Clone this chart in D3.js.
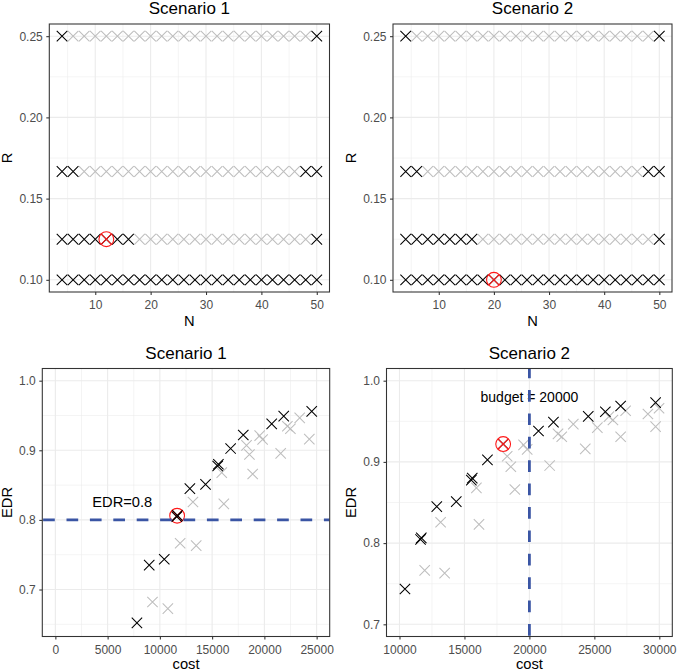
<!DOCTYPE html>
<html>
<head>
<meta charset="utf-8">
<script src="https://cdn.jsdelivr.net/npm/d3@7"></script>
<style>
  html, body { margin: 0; padding: 0; background: #fff; }
  svg { display: block; font-family: "Liberation Sans", Arial, Helvetica, sans-serif; }
</style>
</head>
<body>
<svg id="chart" width="677" height="671"></svg>
<script>
// ---------------- data ----------------
const scenarioTitles = ["Scenario 1", "Scenario 2"];

// top panels: design grid N x R
const nValues = [4, 6, 8, 10, 12, 14, 16, 18, 20, 22, 24, 26, 28, 30, 32, 34, 36, 38, 40, 42, 44, 46, 48, 50];
const rValues = [0.25, 0.1667, 0.125, 0.10];
// N values drawn in black, one list per R row (same in both scenarios)
const blackNByRow = [
  [4, 50],
  [4, 6, 48, 50],
  [4, 6, 8, 10, 12, 14, 16, 50],
  [4, 6, 8, 10, 12, 14, 16, 18, 20, 22, 24, 26, 28, 30, 32, 34, 36, 38, 40, 42, 44, 46, 48, 50]
];
const optimalNR = [[12, 0.125], [20, 0.10]]; // scenario 1, scenario 2

// bottom panels: cost vs EDR
const blackCost = [7805, 8979, 10420, 11620, 11680, 12870, 14370, 15530, 15600, 16770, 17980, 20700, 21850, 24530, 25846, 27023, 29715];
const blackEDR  = [0.652, 0.735, 0.7435, 0.8045, 0.8065, 0.845, 0.851, 0.8775, 0.880, 0.9025, 0.922, 0.938, 0.949, 0.956, 0.9618, 0.9688, 0.973];
const greyCost  = [9294, 10764, 11940, 13165, 13475, 15920, 16120, 18290, 18570, 18880, 19550, 19830, 21560, 22200, 22490, 23380, 24300, 25231, 26123, 26431, 27023, 27408, 29123, 29980, 29715];
const greyEDR   = [0.682, 0.6725, 0.7665, 0.8257, 0.763, 0.868, 0.823, 0.907, 0.894, 0.866, 0.921, 0.9155, 0.8955, 0.9345, 0.931, 0.9465, 0.916, 0.9422, 0.9557, 0.9516, 0.931, 0.963, 0.959, 0.966, 0.9434];
const optimalCostEDR = [[11650, 0.806], [17980, 0.922]];

const s1Limits = { cost: [0, 25000], edr: [0.65, 1.0] };
const s2Limits = { cost: [10000, 30000], edr: [0.70, 1.0] };
const edrTarget = 0.8;
const budget = 20000;
const edrLabel = "EDR=0.8";
const budgetLabel = "budget = 20000";

const topXTicks = [10, 20, 30, 40, 50];
const topYTicks = [0.10, 0.15, 0.20, 0.25];
const s1XTicks = [0, 5000, 10000, 15000, 20000, 25000];
const s2XTicks = [10000, 15000, 20000, 25000, 30000];
const bottomYTicks = [0.7, 0.8, 0.9, 1.0];

// ---------------- styles ----------------
const BLACK = "#000000", GREY = "#BEBEBE", RED = "#FF1A1A", BLUE = "#3A55A4";
const GRID = "#EBEBEB", BORDER = "#333333", TICKTXT = "#4D4D4D";

const svg = d3.select("#chart");
let clipId = 0;

function expand(lims) {
  const d = (lims[1] - lims[0]) * 0.05;
  return [lims[0] - d, lims[1] + d];
}

function panel(opt) {
  const x = d3.scaleLinear().domain(opt.xDomain).range([opt.x0, opt.x1]);
  const y = d3.scaleLinear().domain(opt.yDomain).range([opt.y1, opt.y0]);
  const g = svg.append("g");
  const id = "clip" + (clipId++);
  svg.append("defs").append("clipPath").attr("id", id)
    .append("rect").attr("x", opt.x0).attr("y", opt.y0)
    .attr("width", opt.x1 - opt.x0).attr("height", opt.y1 - opt.y0);

  g.append("rect").attr("x", opt.x0).attr("y", opt.y0)
    .attr("width", opt.x1 - opt.x0).attr("height", opt.y1 - opt.y0).attr("fill", "#fff");

  const inside = g.append("g").attr("clip-path", `url(#${id})`);
  // minor grid
  const xStep = opt.xTicks[1] - opt.xTicks[0];
  const yStep = opt.yTicks[1] - opt.yTicks[0];
  const xMinor = [], yMinor = [];
  for (let i = -1; i < opt.xTicks.length; i++) xMinor.push(opt.xTicks[0] + xStep * (i + 0.5));
  for (let i = -1; i < opt.yTicks.length; i++) yMinor.push(opt.yTicks[0] + yStep * (i + 0.5));
  const inX = v => v >= opt.xDomain[0] && v <= opt.xDomain[1];
  const inY = v => v >= opt.yDomain[0] && v <= opt.yDomain[1];
  inside.selectAll(".xmin").data(xMinor.filter(inX)).join("line")
    .attr("x1", d => x(d)).attr("x2", d => x(d)).attr("y1", opt.y0).attr("y2", opt.y1)
    .attr("stroke", GRID).attr("stroke-width", 0.55);
  inside.selectAll(".ymin").data(yMinor.filter(inY)).join("line")
    .attr("y1", d => y(d)).attr("y2", d => y(d)).attr("x1", opt.x0).attr("x2", opt.x1)
    .attr("stroke", GRID).attr("stroke-width", 0.55);
  inside.selectAll(".xmaj").data(opt.xTicks).join("line")
    .attr("x1", d => x(d)).attr("x2", d => x(d)).attr("y1", opt.y0).attr("y2", opt.y1)
    .attr("stroke", GRID).attr("stroke-width", 1.1);
  inside.selectAll(".ymaj").data(opt.yTicks).join("line")
    .attr("y1", d => y(d)).attr("y2", d => y(d)).attr("x1", opt.x0).attr("x2", opt.x1)
    .attr("stroke", GRID).attr("stroke-width", 1.1);

  // axes (ticks + labels) using d3 axes
  const xAxis = d3.axisBottom(x).tickValues(opt.xTicks).tickFormat(opt.xFmt).tickSizeInner(3).tickSizeOuter(0).tickPadding(3);
  const yAxis = d3.axisLeft(y).tickValues(opt.yTicks).tickFormat(opt.yFmt).tickSizeInner(3).tickSizeOuter(0).tickPadding(3.5);
  const gx = g.append("g").attr("transform", `translate(0,${opt.y1})`).call(xAxis);
  const gy = g.append("g").attr("transform", `translate(${opt.x0},0)`).call(yAxis);
  [gx, gy].forEach(a => {
    a.select(".domain").remove();
    a.selectAll(".tick line").attr("stroke", BORDER).attr("stroke-width", 1.07);
    a.selectAll(".tick text").attr("fill", TICKTXT).attr("font-size", 12)
      .attr("font-family", '"Liberation Sans", Arial, sans-serif');
  });
  gx.selectAll(".tick text").attr("dy", null).attr("y", 17.2).attr("dominant-baseline", "alphabetic");

  // titles
  svg.append("text").attr("x", (opt.x0 + opt.x1) / 2).attr("y", opt.y0 - 10)
    .attr("text-anchor", "middle").attr("font-size", 17).attr("fill", "#000").text(opt.title);
  svg.append("text").attr("x", (opt.x0 + opt.x1) / 2).attr("y", opt.y1 + opt.xTitleGap)
    .attr("text-anchor", "middle").attr("font-size", 14.7).attr("fill", "#000").text(opt.xLabel);
  svg.append("text").attr("transform", `translate(${opt.yTitleX},${(opt.y0 + opt.y1) / 2}) rotate(-90)`)
    .attr("text-anchor", "middle").attr("dy", "0.35em").attr("font-size", 14.7).attr("fill", "#000").text(opt.yLabel);

  return { x, y, g: inside, border: () => g.append("rect").attr("x", opt.x0).attr("y", opt.y0)
    .attr("width", opt.x1 - opt.x0).attr("height", opt.y1 - opt.y0)
    .attr("fill", "none").attr("stroke", BORDER).attr("stroke-width", 1.07) };
}

function cross(sel, data, color, h) {
  sel.selectAll(null).data(data).join("path")
    .attr("d", d => `M${d[0]-h},${d[1]-h}L${d[0]+h},${d[1]+h}M${d[0]-h},${d[1]+h}L${d[0]+h},${d[1]-h}`)
    .attr("stroke", color).attr("stroke-width", 1.05).attr("fill", "none");
}
function optimum(sel, p) {
  const r = 7.4, h = r * Math.SQRT1_2;
  sel.append("circle").attr("cx", p[0]).attr("cy", p[1]).attr("r", r)
    .attr("fill", "none").attr("stroke", RED).attr("stroke-width", 1.1);
  sel.append("path")
    .attr("d", `M${p[0]-h},${p[1]-h}L${p[0]+h},${p[1]+h}M${p[0]-h},${p[1]+h}L${p[0]+h},${p[1]-h}`)
    .attr("stroke", RED).attr("stroke-width", 1.1);
}

const fmt2 = d3.format(".2f"), fmt1 = d3.format(".1f"), fmt0 = d => String(d);
const topYDomain = expand([0.10, 0.25]);
const topXDomain = expand([4, 50]);

// ---------------- top panels ----------------
const topRects = [
  { x0: 49.3, x1: 329.5, yTitleX: 7.3 },
  { x0: 393.0, x1: 672.0, yTitleX: 350.5 }
];
[0, 1].forEach(s => {
  const p = panel({
    ...topRects[s], y0: 24, y1: 292, xTitleGap: 34,
    xDomain: topXDomain, yDomain: topYDomain,
    xTicks: topXTicks, yTicks: topYTicks, xFmt: fmt0, yFmt: fmt2,
    title: scenarioTitles[s], xLabel: "N", yLabel: "R"
  });
  const grey = [], black = [];
  rValues.forEach((r, i) => {
    nValues.forEach(n => {
      const pt = [p.x(n), p.y(r)];
      (blackNByRow[i].includes(n) ? black : grey).push(pt);
    });
  });
  cross(p.g, grey, GREY, 5.3);
  cross(p.g, black, BLACK, 5.3);
  optimum(p.g, [p.x(optimalNR[s][0]), p.y(optimalNR[s][1])]);
  p.border();
});

// ---------------- bottom panels ----------------
const bottomRects = [
  { x0: 42.3, x1: 329.7, yTitleX: 7.3, lims: s1Limits, xTicks: s1XTicks },
  { x0: 386.5, x1: 672.3, yTitleX: 350.8, lims: s2Limits, xTicks: s2XTicks }
];
[0, 1].forEach(s => {
  const b = bottomRects[s];
  const p = panel({
    x0: b.x0, x1: b.x1, y0: 368.5, y1: 636.5, yTitleX: b.yTitleX, xTitleGap: 32.3,
    xDomain: expand(b.lims.cost), yDomain: expand(b.lims.edr),
    xTicks: b.xTicks, yTicks: bottomYTicks, xFmt: fmt0, yFmt: fmt1,
    title: scenarioTitles[s], xLabel: "cost", yLabel: "EDR"
  });
  const inLim = (c, e) => c >= b.lims.cost[0] && c <= b.lims.cost[1] && e >= b.lims.edr[0] && e <= b.lims.edr[1];
  const grey = greyCost.map((c, i) => [c, greyEDR[i]]).filter(d => inLim(d[0], d[1])).map(d => [p.x(d[0]), p.y(d[1])]);
  const black = blackCost.map((c, i) => [c, blackEDR[i]]).filter(d => inLim(d[0], d[1])).map(d => [p.x(d[0]), p.y(d[1])]);
  cross(p.g, grey, GREY, 5.2);
  const opt = [p.x(optimalCostEDR[s][0]), p.y(optimalCostEDR[s][1])];
  if (s === 0) {
    optimum(p.g, opt);
    cross(p.g, black, BLACK, 5.2);
  } else {
    cross(p.g, black, BLACK, 5.2);
    optimum(p.g, opt);
  }
  if (s === 0) {
    p.g.append("text").attr("x", p.x(6400)).attr("y", p.y(0.826)).attr("dy", "0.36em")
      .attr("text-anchor", "middle").attr("font-size", 14.7).attr("fill", "#000").text(edrLabel);
    p.g.append("line").attr("x1", b.x0).attr("x2", b.x1).attr("y1", p.y(edrTarget)).attr("y2", p.y(edrTarget))
      .attr("stroke", BLUE).attr("stroke-width", 2.8).attr("stroke-dasharray", "11.7,11.7").attr("stroke-dashoffset", -0.8);
  } else {
    p.g.append("text").attr("x", p.x(budget)).attr("y", p.y(0.980)).attr("dy", "0.36em")
      .attr("text-anchor", "middle").attr("font-size", 14).attr("fill", "#000").text(budgetLabel);
    p.g.append("line").attr("x1", p.x(budget)).attr("x2", p.x(budget)).attr("y1", 636.5).attr("y2", 368.5)
      .attr("stroke", BLUE).attr("stroke-width", 2.8).attr("stroke-dasharray", "11.7,11.7").attr("stroke-dashoffset", -0.8);
  }
  p.border();
});
</script>
</body>
</html>
